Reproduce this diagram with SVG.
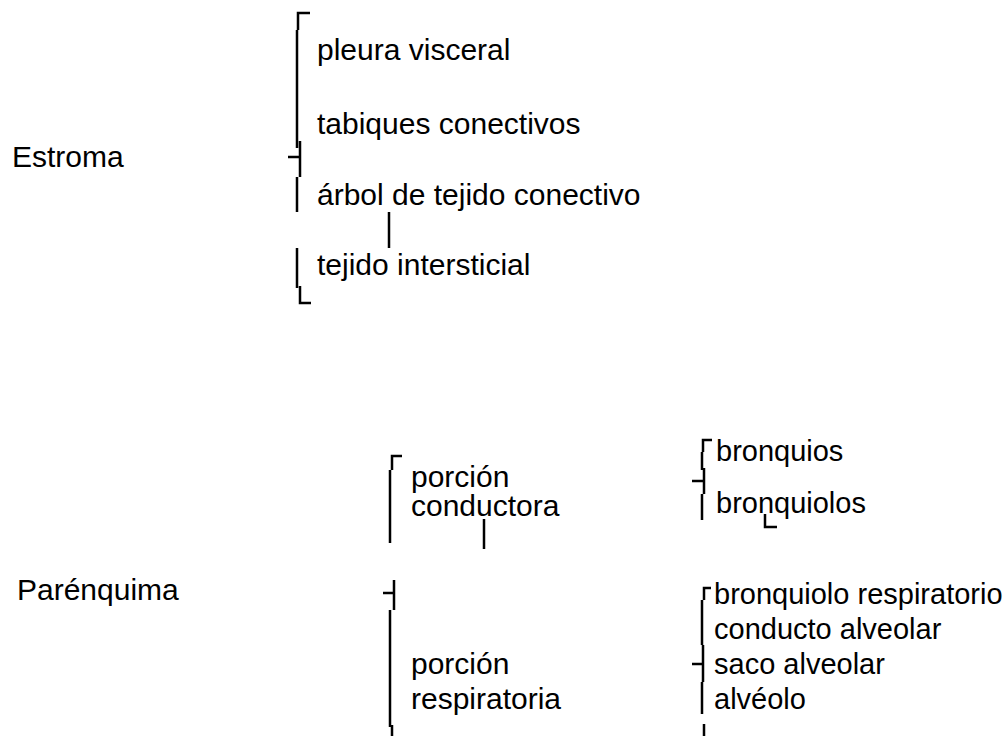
<svg xmlns="http://www.w3.org/2000/svg" width="1005" height="736" viewBox="0 0 1005 736">
<style>
text{font-family:"Liberation Sans",Arial,sans-serif;font-size:30px;fill:#000}
.r{font-size:29px}
.br{fill:none;stroke:#000;stroke-width:2.5;stroke-linecap:butt}
</style>
<rect width="1005" height="736" fill="#fff"/>
<g id="connectors">
<path class="br" d="M310,13 H298 V30 M297,30 V148 M288,157 H300 M300,141 V177 M297,177 V212 M297,248 V288 M300,286 V303 H311"/>
<path class="br" d="M389,212 V248"/>
<path class="br" d="M402,456 H392 V470 M390,470 V543 M383,593 H394 M394,580 V610 M390,610 V727 M392,725 V736"/>
<path class="br" d="M484,519 V549"/>
<path class="br" d="M712,440 H703 V452 M702,452 V470 M692,481 H704 M704,468 V494 M702,494 V520"/>
<path class="br" d="M765,514 V527 H777"/>
<path class="br" d="M711,588 H704 V600 M702,600 V645 M692,664 H703 M703,645 V682 M702,682 V714 M704,724 V736"/>
</g>
<g id="estroma"><text x="12" y="167">Estroma</text></g>
<g id="pleura"><text x="317" y="60">pleura visceral</text></g>
<g id="tabiques"><text x="317" y="134">tabiques conectivos</text></g>
<g id="arbol"><text x="317" y="205">árbol de tejido conectivo</text></g>
<g id="tejido"><text x="317" y="275">tejido intersticial</text></g>
<g id="parenquima"><text x="17" y="600">Parénquima</text></g>
<g id="conductora"><text x="411" y="487">porción<tspan x="411" y="516">conductora</tspan></text></g>
<g id="respiratoria"><text x="411" y="674">porción<tspan x="411" y="709">respiratoria</tspan></text></g>
<g id="bronquios"><text class="r" x="716" y="461">bronquios</text></g>
<g id="bronquiolos"><text class="r" x="716" y="513">bronquiolos</text></g>
<g id="bronquiolo-resp"><text class="r" x="714" y="604">bronquiolo respiratorio</text></g>
<g id="conducto"><text class="r" x="714" y="639">conducto alveolar</text></g>
<g id="saco"><text class="r" x="714" y="674">saco alveolar</text></g>
<g id="alveolo"><text class="r" x="714" y="709">alvéolo</text></g>
</svg>
